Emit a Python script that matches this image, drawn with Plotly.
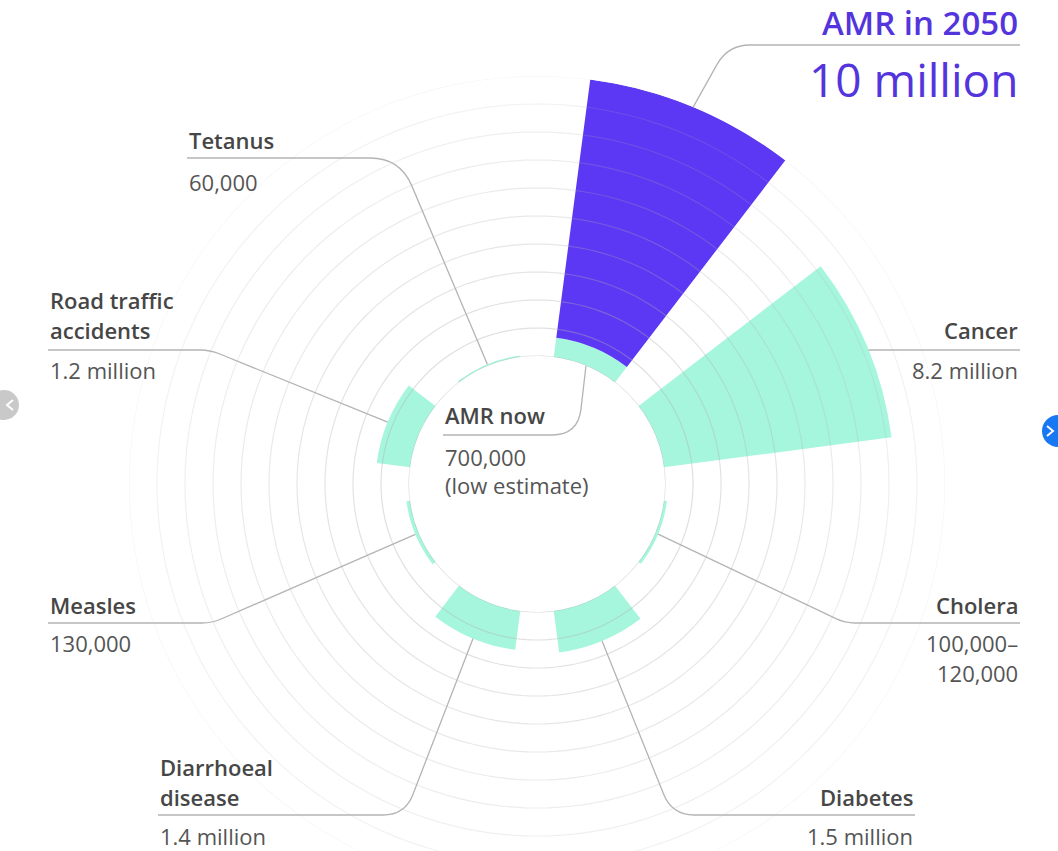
import math
import plotly.graph_objects as go

# ---- data: deaths per year, in millions ----
categories = ["AMR now", "Cancer", "Cholera", "Diabetes",
              "Diarrhoeal disease", "Measles", "Road traffic accidents", "Tetanus"]
deaths_m = [0.7, 8.2, 0.11, 1.5, 1.4, 0.13, 1.2, 0.06]
amr_2050_m = 10.0

title_lines = [["AMR now"], ["Cancer"], ["Cholera"], ["Diabetes"],
               ["Diarrhoeal", "disease"], ["Measles"], ["Road traffic", "accidents"], ["Tetanus"]]
value_lines = [["700,000", "(low estimate)"], ["8.2 million"], ["100,000–", "120,000"],
               ["1.5 million"], ["1.4 million"], ["130,000"], ["1.2 million"], ["60,000"]]
amr_2050_title = "AMR in 2050"
amr_2050_value = "10 million"
ring_values = list(range(0, 11))  # one guide ring per million deaths

# ---- geometry (pixels) ----
W, H = 1058, 900
CX, CY = 537, 484
HOLE_PX = 128
PX_PER_M = 28
R_MAX = 10
OUTER_PX = HOLE_PX + PX_PER_M * R_MAX
SECTOR = 360 / len(categories)
BAR_WIDTH = 30
angles = [SECTOR / 2 + SECTOR * i for i in range(len(categories))]

TEAL = "#a6f6de"
PURPLE = "#5c38f4"
PURPLE_TEXT = "#5434dc"
TITLE_COLOR = "#464646"
VALUE_COLOR = "#555555"
LINE_COLOR = "#b4b4b4"
FONT = "Open Sans"


def px(x, y):
    """pixel position -> paper coordinates"""
    return x / W, 1 - y / H


def bar_point(value_m, theta_deg):
    r = HOLE_PX + PX_PER_M * value_m
    t = math.radians(theta_deg)
    return CX + r * math.sin(t), CY - r * math.cos(t)


fig = go.Figure()
fig.add_trace(go.Barpolar(
    r=deaths_m, theta=angles, width=[BAR_WIDTH] * len(deaths_m),
    marker=dict(color=TEAL, line=dict(width=0)), hoverinfo="skip", name="now"))
fig.add_trace(go.Barpolar(
    r=[amr_2050_m - deaths_m[0]], base=[deaths_m[0]], theta=[angles[0]], width=[BAR_WIDTH],
    marker=dict(color=PURPLE, line=dict(width=0)), hoverinfo="skip", name="AMR 2050"))

# guide rings, fading towards the outside
circle_theta = [i * 2 for i in range(181)]
for k in ring_values:
    alpha = 0.42 - 0.028 * k
    fig.add_trace(go.Scatterpolar(
        r=[k] * len(circle_theta), theta=circle_theta, mode="lines", cliponaxis=False,
        line=dict(color=f"rgba(175,175,175,{alpha:.3f})", width=1.2),
        hoverinfo="skip", showlegend=False))

dx0, dy1 = px(CX - OUTER_PX, CY - OUTER_PX)
dx1, dy0 = px(CX + OUTER_PX, CY + OUTER_PX)
fig.update_layout(
    width=W, height=H, autosize=False,
    margin=dict(l=0, r=0, t=0, b=0),
    paper_bgcolor="white", plot_bgcolor="white",
    showlegend=False,
    polar=dict(
        domain=dict(x=[dx0, dx1], y=[dy0, dy1]),
        hole=HOLE_PX / OUTER_PX,
        bgcolor="rgba(0,0,0,0)",
        radialaxis=dict(range=[0, R_MAX], showgrid=False, showticklabels=False, ticks="",
                        showline=False),
        angularaxis=dict(rotation=90, direction="clockwise", showgrid=False,
                         showticklabels=False, ticks="", showline=False),
    ),
)

# ---- label layout: text anchor, line rows, underline and leader corner ----
label_layout = [
    dict(x=443, side="left", title_y=[415], value_y=[457, 485], line_y=435, corner=(578, 435), rnd=26, at_hole=True),
    dict(x=1020, side="right", title_y=[330], value_y=[370], line_y=350, corner=None),
    dict(x=1020, side="right", title_y=[605], value_y=[643, 673], line_y=623, corner=(845, 623), rnd=10),
    dict(x=915, side="right", title_y=[797], value_y=[836], line_y=815, corner=(672, 815), rnd=22),
    dict(x=158, side="left", title_y=[767, 797], value_y=[836], line_y=815, corner=(405, 815), rnd=22),
    dict(x=48, side="left", title_y=[605], value_y=[643], line_y=623, corner=(212, 623), rnd=10),
    dict(x=48, side="left", title_y=[300, 330], value_y=[370], line_y=350, corner=(210, 350), rnd=10),
    dict(x=187, side="left", title_y=[140], value_y=[182], line_y=158, corner=(400, 158), rnd=30),
]


def leader_path(x0, y0, corner, end, rnd):
    cx, cy = corner
    sx = 1 if cx > x0 else -1
    p1 = (cx - sx * rnd, cy)
    ex, ey = end
    L = math.hypot(ex - cx, ey - cy)
    p2 = (cx + rnd * (ex - cx) / L, cy + rnd * (ey - cy) / L)
    pts = [(x0, y0), p1, corner, p2, end]
    pp = [px(*p) for p in pts]
    return (f"M {pp[0][0]},{pp[0][1]} L {pp[1][0]},{pp[1][1]} "
            f"Q {pp[2][0]},{pp[2][1]} {pp[3][0]},{pp[3][1]} L {pp[4][0]},{pp[4][1]}")


def add_text(x, y, text, side, size, color, weight=400):
    ax_, ay_ = px(x, y)
    fig.add_annotation(x=ax_, y=ay_, xref="paper", yref="paper", text=text, showarrow=False,
                       xanchor=side, yanchor="middle",
                       font=dict(family=FONT, size=size, color=color, weight=weight))


shapes = []
for i, lay in enumerate(label_layout):
    for t, y in zip(title_lines[i], lay["title_y"]):
        add_text(lay["x"], y, t, lay["side"], 22, TITLE_COLOR, 600)
    for t, y in zip(value_lines[i], lay["value_y"]):
        add_text(lay["x"], y, t, lay["side"], 22, VALUE_COLOR, 400)
    if lay["corner"] is None:
        # straight underline that runs into the bar's outer edge
        r = HOLE_PX + PX_PER_M * deaths_m[i]
        xe = CX + math.sqrt(r ** 2 - (CY - lay["line_y"]) ** 2)
        a0, b0 = px(lay["x"], lay["line_y"])
        a1, b1 = px(xe, lay["line_y"])
        shapes.append(dict(type="line", xref="paper", yref="paper", x0=a0, y0=b0, x1=a1, y1=b1,
                           line=dict(color=LINE_COLOR, width=1.3)))
    else:
        end = bar_point(0 if lay.get("at_hole") else deaths_m[i], angles[i])
        shapes.append(dict(type="path", xref="paper", yref="paper",
                           path=leader_path(lay["x"], lay["line_y"], lay["corner"], end, lay["rnd"]),
                           line=dict(color=LINE_COLOR, width=1.3)))

# AMR in 2050 callout
add_text(1020, 22, amr_2050_title, "right", 33, PURPLE_TEXT, 600)
add_text(1020, 79, amr_2050_value, "right", 46, PURPLE_TEXT, 400)
shapes.append(dict(type="path", xref="paper", yref="paper",
                   path=leader_path(1020, 45, (728, 45), bar_point(amr_2050_m, angles[0]), 22),
                   line=dict(color=LINE_COLOR, width=1.3)))

# side navigation buttons with chevrons
for (bx, by, br, col, chev) in [(4, 405, 15, "#c9c9c9", -1), (1058, 431, 16, "#1877f2", 1)]:
    a0, b0 = px(bx - br, by - br)
    a1, b1 = px(bx + br, by + br)
    shapes.append(dict(type="circle", xref="paper", yref="paper", x0=a0, y0=b0, x1=a1, y1=b1,
                       fillcolor=col, line=dict(width=0)))
    cx0 = bx + (6 if chev < 0 else -8)
    p = [px(cx0 - 3 * chev, by - 5), px(cx0 + 3 * chev, by), px(cx0 - 3 * chev, by + 5)]
    shapes.append(dict(type="path", xref="paper", yref="paper",
                       path=f"M {p[0][0]},{p[0][1]} L {p[1][0]},{p[1][1]} L {p[2][0]},{p[2][1]}",
                       line=dict(color="white", width=2)))

fig.update_layout(shapes=shapes)

fig.write_html("out.html", post_script="document.documentElement.style.overflow='hidden';document.body.style.overflow='hidden';")
